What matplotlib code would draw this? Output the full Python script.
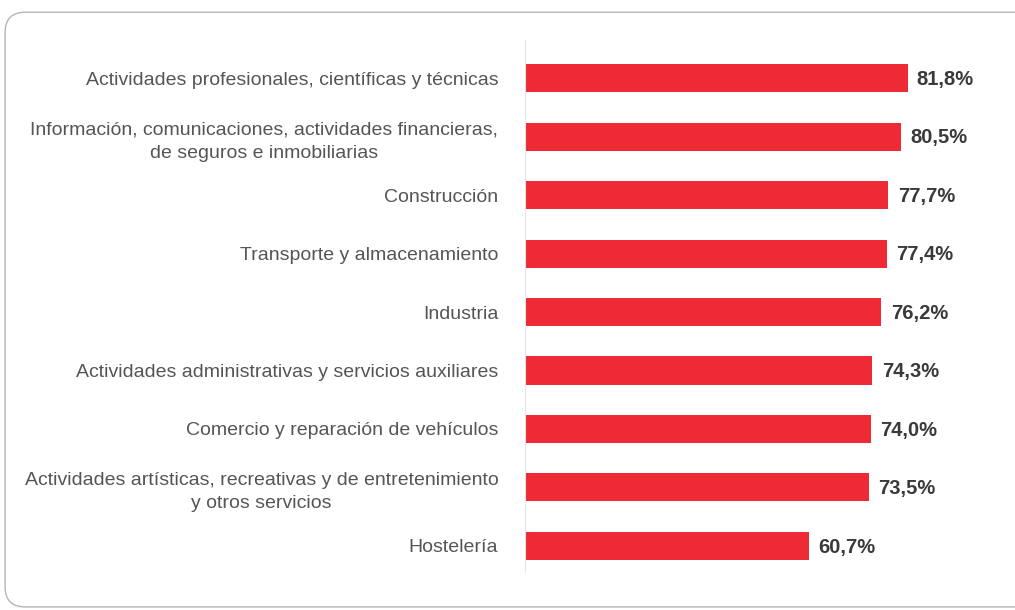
import matplotlib.pyplot as plt
from matplotlib.patches import FancyBboxPatch

sectores = [
    "Actividades profesionales, científicas y técnicas",
    "Información, comunicaciones, actividades financieras,\nde seguros e inmobiliarias",
    "Construcción",
    "Transporte y almacenamiento",
    "Industria",
    "Actividades administrativas y servicios auxiliares",
    "Comercio y reparación de vehículos",
    "Actividades artísticas, recreativas y de entretenimiento\ny otros servicios",
    "Hostelería",
]
porcentajes = [81.8, 80.5, 77.7, 77.4, 76.2, 74.3, 74.0, 73.5, 60.7]
etiquetas = ["81,8%", "80,5%", "77,7%", "77,4%", "76,2%", "74,3%", "74,0%", "73,5%", "60,7%"]

rojo = "#ee2a35"

fig = plt.figure(figsize=(10.15, 6.1), dpi=100)
fig.patch.set_facecolor("white")

# marco redondeado alrededor del gráfico
marco = FancyBboxPatch((0.005, 0.005), 1.05, 0.975, boxstyle="round,pad=0,rounding_size=0.02",
                       transform=fig.transFigure, facecolor="none", edgecolor="#b5b5b5",
                       linewidth=1.0, mutation_aspect=1015 / 610)
fig.patches.append(marco)

ax = fig.add_axes([0.517, 0.062, 0.461, 0.872])
pos = list(range(len(sectores)))
ax.barh(pos, porcentajes, height=0.48, color=rojo)

for p, v, t in zip(pos, porcentajes, etiquetas):
    ax.text(v + 2.0, p + 0.02, t, va="center", ha="left", fontsize=14.5, fontweight="bold",
            color="#3a3a3a", family="Liberation Sans")

ax.set_yticks(pos)
ax.set_yticklabels(sectores, fontsize=14, color="#555555", family="Liberation Sans",
                   multialignment="center", linespacing=1.45)
ax.tick_params(axis="y", length=0, pad=19)
ax.set_xticks([])
ax.set_xlim(0, 100)
ax.set_ylim(8.45, -0.65)

for lado in ["top", "right", "bottom"]:
    ax.spines[lado].set_visible(False)
ax.spines["left"].set_color("#e6e6e6")
ax.spines["left"].set_linewidth(0.8)

fig.savefig("out.png", dpi=100)
